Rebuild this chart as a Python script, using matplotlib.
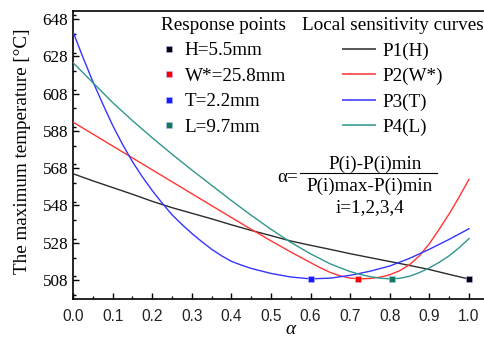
import matplotlib
matplotlib.use("Agg")
import matplotlib.pyplot as plt
import matplotlib.ticker as mticker
from matplotlib.lines import Line2D
import numpy as np

# ── data ─────────────────────────────────────────────────────────────────────
alpha = [0.00, 0.05, 0.10, 0.15, 0.20, 0.25, 0.30, 0.35, 0.40, 0.45, 0.50,
         0.55, 0.60, 0.65, 0.70, 0.75, 0.80, 0.85, 0.90, 0.95, 1.00]
p1_h = [565.0, 561.2, 557.6, 554.0, 550.2, 546.8, 543.8, 540.8, 537.6, 534.6,
        531.8, 528.9, 526.6, 524.4, 522.1, 520.0, 517.9, 515.8, 513.6, 511.0, 508.5]

alpha_w = [0.00, 0.05, 0.10, 0.15, 0.20, 0.25, 0.30, 0.35, 0.40, 0.45, 0.50,
           0.55, 0.60, 0.625, 0.65, 0.675, 0.70, 0.725, 0.75, 0.775, 0.80,
           0.825, 0.85, 0.875, 0.90, 0.925, 0.95, 0.975, 1.00]
p2_w = [592.7, 586.3, 579.9, 573.5, 567.1, 560.7, 554.3, 547.9, 541.5, 535.2,
        529.0, 523.0, 517.3, 514.5, 512.0, 510.2, 509.0, 508.6, 508.8, 509.5,
        510.8, 513.0, 516.2, 521.0, 527.5, 535.3, 543.5, 552.5, 562.0]

alpha_t = [0.00, 0.025, 0.05, 0.075, 0.10, 0.125, 0.15, 0.175, 0.20, 0.225,
           0.25, 0.275, 0.30, 0.325, 0.35, 0.375, 0.40, 0.425, 0.45, 0.50,
           0.55, 0.60, 0.65, 0.70, 0.75, 0.80, 0.85, 0.90, 0.95, 1.00]
p3_t = [641.2, 627.5, 614.5, 602.5, 591.0, 580.8, 571.5, 563.4, 556.0, 549.3,
        543.0, 537.8, 533.0, 528.6, 524.5, 521.0, 518.0, 516.0, 514.2, 511.5,
        509.6, 508.6, 509.0, 510.5, 512.7, 515.5, 519.6, 524.5, 529.8, 535.5]

alpha_l = [0.00, 0.05, 0.10, 0.15, 0.20, 0.25, 0.30, 0.35, 0.40, 0.45, 0.50,
           0.55, 0.60, 0.65, 0.70, 0.725, 0.75, 0.775, 0.80, 0.825, 0.85,
           0.875, 0.90, 0.925, 0.95, 0.975, 1.00]
p4_l = [624.6, 613.9, 603.2, 593.5, 584.3, 575.5, 567.0, 558.8, 550.6, 542.7,
        535.2, 528.2, 522.0, 516.6, 512.5, 511.0, 509.8, 509.0, 508.6, 508.9,
        510.0, 512.0, 514.5, 517.5, 521.0, 525.3, 530.2]

curve_labels = ["P1(H)", "P2(W*)", "P3(T)", "P4(L)"]
curve_colors = ["#2b2b2b", "#ff3535", "#3535ff", "#30978c"]

point_labels = ["H=5.5mm", "W*=25.8mm", "T=2.2mm", "L=9.7mm"]
point_alpha = [1.0, 0.72, 0.60, 0.806]
point_temp = [508.5, 508.5, 508.5, 508.5]
point_colors = ["#000000", "#ff0000", "#1a1aff", "#107a5a"]

yticks = [508, 528, 548, 568, 588, 608, 628, 648]

SERIF = ["Liberation Serif", "DejaVu Serif"]
SANS = ["Liberation Sans", "DejaVu Sans"]
W, H = 484, 339


def px(x, y):
    """pixel position (from top-left) -> figure fraction"""
    return x / W, 1 - y / H


fig = plt.figure(figsize=(W / 100, H / 100), dpi=100)
ax = fig.add_axes([73 / W, 40 / H, 435.6 / W, 288 / H])

series = [(alpha, p1_h), (alpha_w, p2_w), (alpha_t, p3_t), (alpha_l, p4_l)]
for (xs, ys), c in zip(series, curve_colors):
    ax.plot(xs, ys, color=c, lw=1.0, zorder=3)

for xa, ya, c in zip(point_alpha, point_temp, point_colors):
    ax.plot(xa, ya, ls="none", marker="s", ms=4.5, color=c,
            mec="#b8b8ff", mew=0.4, zorder=5)

ax.set_xlim(0, 1.1)
ax.set_ylim(497.8, 652.3)
ax.set_yticks(yticks)
ax.xaxis.set_major_locator(mticker.FixedLocator(np.arange(0, 1.01, 0.1)))
ax.xaxis.set_major_formatter(mticker.FormatStrFormatter("%.1f"))
ax.xaxis.set_minor_locator(mticker.MultipleLocator(0.05))
ax.yaxis.set_minor_locator(mticker.MultipleLocator(10))

ax.tick_params(which="both", direction="in", top=False, right=False)
ax.tick_params(which="major", length=4, width=1.0)
ax.tick_params(which="minor", length=2.3, width=1.0)
ax.tick_params(axis="y", pad=3.5)
ax.tick_params(axis="x", pad=7.5)
for lab in ax.get_yticklabels():
    lab.set_fontfamily(SERIF)
    lab.set_fontsize(12.3)
for lab in ax.get_xticklabels():
    lab.set_fontfamily(SANS)
    lab.set_fontsize(11.2)
    lab.set_color("#222222")

for s in ["left", "bottom", "top"]:
    ax.spines[s].set_linewidth(1.2)
ax.spines["right"].set_visible(False)

ax.set_ylabel("The maximum temperature [°C]", family=SERIF, fontsize=13.8)
ax.yaxis.set_label_coords(-0.096, 0.512)
ax.set_xlabel("α", family=SERIF, fontsize=13.8, style="italic")
ax.xaxis.set_label_coords(0.498, -0.078)

# ── legends ──────────────────────────────────────────────────────────────────
pt_handles = [Line2D([], [], ls="none", marker="s", ms=4.5, color=c,
                     mec="#b8b8ff", mew=0.4) for c in point_colors]
leg1 = ax.legend(pt_handles, point_labels, title="Response points",
                 loc="upper left", bbox_to_anchor=px(161, 17),
                 bbox_transform=fig.transFigure, frameon=False,
                 prop={"family": SERIF, "size": 13.8},
                 title_fontproperties={"family": SERIF, "size": 13.8},
                 alignment="right",
                 handlelength=0.8, handletextpad=0.45, labelspacing=0.42,
                 borderpad=0.0, borderaxespad=0.0)
ax.add_artist(leg1)

ln_handles = [Line2D([], [], color=c, lw=1.4, alpha=0.8) for c in curve_colors]
leg2 = ax.legend(ln_handles, curve_labels, title="Local sensitivity curves",
                 loc="upper left", bbox_to_anchor=px(302, 17),
                 bbox_transform=fig.transFigure, frameon=False,
                 prop={"family": SERIF, "size": 13.8},
                 title_fontproperties={"family": SERIF, "size": 13.8},
                 handlelength=1.67, handletextpad=0.36, labelspacing=0.42,
                 borderpad=0.0, borderaxespad=0.0)

# ── formula annotation ───────────────────────────────────────────────────────
fs = 13.8
fig.text(*px(288, 177), "α=", family=SERIF, fontsize=fs, ha="center", va="center")
fig.text(*px(375, 164), "P(i)-P(i)min", family=SERIF, fontsize=fs,
         ha="center", va="center")
fig.text(*px(370, 186), "P(i)max-P(i)min", family=SERIF, fontsize=fs,
         ha="center", va="center")
fig.text(*px(370, 208), "i=1,2,3,4", family=SERIF, fontsize=fs,
         ha="center", va="center")
x0, y0 = px(300, 172.5)
x1, _ = px(437, 172.5)
fig.add_artist(Line2D([x0, x1], [y0, y0], color="black", lw=0.8,
                      transform=fig.transFigure))

fig.savefig("out.png", dpi=100)
